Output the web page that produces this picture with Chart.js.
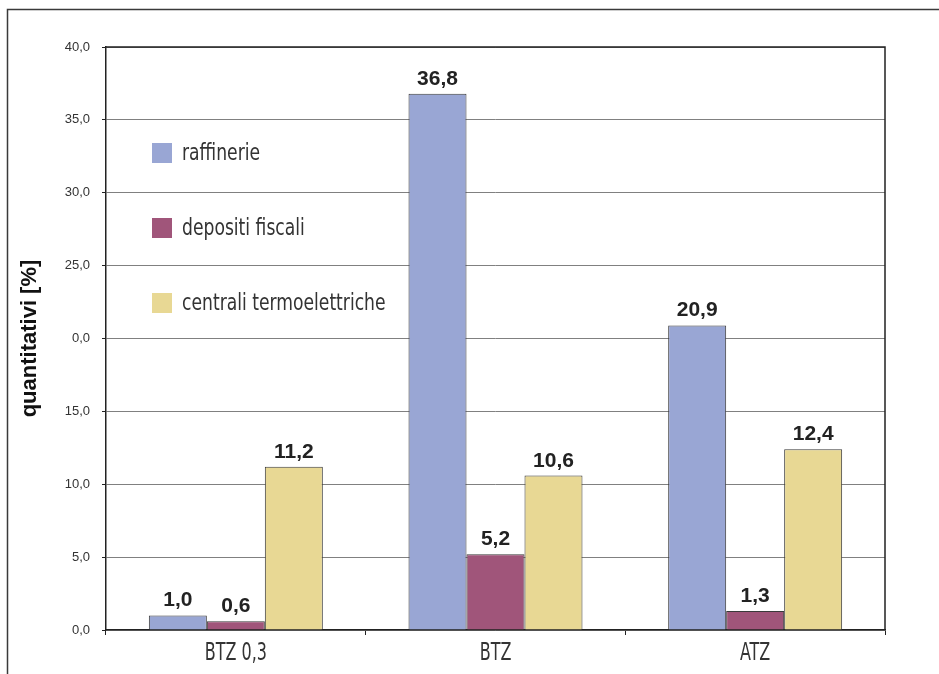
<!DOCTYPE html>
<html>
<head>
<meta charset="utf-8">
<script src="https://cdn.jsdelivr.net/npm/chart.js@4/dist/chart.umd.min.js"></script>
<style>
  html, body { margin: 0; padding: 0; background: #fff; }
  canvas { display: block; }
</style>
</head>
<body>
<canvas id="c" width="939" height="674"></canvas>
<script>
// Categories and series
const categories = ['BTZ 0,3', 'BTZ', 'ATZ'];
const raffinerie = [1.0, 36.8, 20.9];
const depositiFiscali = [0.6, 5.2, 1.3];
const centraliTermo = [11.2, 10.6, 12.4];
const seriesNames = ['raffinerie', 'depositi fiscali', 'centrali termoelettriche'];
const yTickLabels = ['0,0', '5,0', '10,0', '15,0', '0,0', '25,0', '30,0', '35,0', '40,0'];
const axisTitle = 'quantitativi [%]';

const colors = ['#99A6D4', '#A0557A', '#E8D894'];
const narrow = "'Liberation Sans Narrow', 'DejaVu Sans Condensed', sans-serif";
const sans = "'Liberation Sans', Arial, sans-serif";

const fmt = v => v.toFixed(1).replace('.', ',');

// Draw text squeezed horizontally (condensed look)
function squeezedText(ctx, text, x, y, sx) {
  ctx.save();
  ctx.translate(x, y);
  ctx.scale(sx, 1);
  ctx.fillText(text, 0, 0);
  ctx.restore();
}

// Outer frame and plot box
const framePlugin = {
  id: 'frame',
  beforeDraw(chart) {
    const ctx = chart.ctx;
    ctx.save();
    ctx.strokeStyle = '#3a3a3a';
    ctx.lineWidth = 1.5;
    ctx.beginPath();
    ctx.moveTo(7.5, chart.height);
    ctx.lineTo(7.5, 9.5);
    ctx.lineTo(chart.width, 9.5);
    ctx.stroke();
    ctx.restore();
  },
  afterDraw(chart) {
    const a = chart.chartArea;
    const ctx = chart.ctx;
    ctx.save();
    ctx.strokeStyle = '#222';
    ctx.lineWidth = 1.5;
    ctx.beginPath();
    ctx.moveTo(a.left, a.top);
    ctx.lineTo(a.right, a.top);
    ctx.lineTo(a.right, a.bottom);
    ctx.stroke();
    ctx.restore();
  }
};

// Category names under the x axis, placed at the scale's tick positions
const categoryLabels = {
  id: 'categoryLabels',
  afterDraw(chart) {
    const xs = chart.scales.x;
    const ctx = chart.ctx;
    ctx.save();
    ctx.font = '24px ' + narrow;
    ctx.fillStyle = '#333';
    ctx.textAlign = 'center';
    ctx.textBaseline = 'alphabetic';
    chart.data.labels.forEach((lab, i) => {
      squeezedText(ctx, lab, xs.getPixelForTick(i), chart.chartArea.bottom + 30, 0.74);
    });
    ctx.restore();
  }
};

// Value labels above each bar
const valueLabels = {
  id: 'valueLabels',
  afterDatasetsDraw(chart) {
    const ctx = chart.ctx;
    ctx.save();
    ctx.font = 'bold 21px ' + sans;
    ctx.fillStyle = '#222';
    ctx.textAlign = 'center';
    ctx.textBaseline = 'alphabetic';
    chart.data.datasets.forEach((ds, i) => {
      chart.getDatasetMeta(i).data.forEach((el, j) => {
        ctx.fillText(fmt(ds.data[j]), el.x, el.y - 9);
      });
    });
    ctx.restore();
  }
};

// Legend drawn inside the plot area
const innerLegend = {
  id: 'innerLegend',
  afterDraw(chart) {
    const a = chart.chartArea;
    const ctx = chart.ctx;
    ctx.save();
    ctx.font = '23px ' + narrow;
    ctx.textBaseline = 'middle';
    ctx.textAlign = 'left';
    chart.data.datasets.forEach((ds, i) => {
      const cy = a.top + 106 + i * 75;
      const x = a.left + 46;
      ctx.fillStyle = ds.backgroundColor;
      ctx.fillRect(x, cy - 10, 20, 20);
      ctx.fillStyle = '#333';
      squeezedText(ctx, ds.label, x + 30, cy + 1, 0.83);
    });
    ctx.restore();
  }
};

new Chart(document.getElementById('c'), {
  type: 'bar',
  data: {
    labels: categories,
    datasets: [
      { label: seriesNames[0], data: raffinerie, backgroundColor: colors[0] },
      { label: seriesNames[1], data: depositiFiscali, backgroundColor: colors[1] },
      { label: seriesNames[2], data: centraliTermo, backgroundColor: colors[2] }
    ].map(d => Object.assign(d, { borderColor: '#3a3a3a', borderWidth: 1, borderSkipped: 'bottom' }))
  },
  options: {
    responsive: false,
    animation: false,
    layout: { padding: { top: 47, right: 54, left: 0, bottom: 0 } },
    datasets: { bar: { categoryPercentage: 0.67, barPercentage: 1.0 } },
    plugins: { legend: { display: false }, tooltip: { enabled: false } },
    scales: {
      x: {
        grid: { display: true, drawOnChartArea: false, drawTicks: true, tickLength: 5, color: '#222', offset: true },
        border: { color: '#222', width: 1.5 },
        ticks: { display: false },
        afterFit(s) { s.height = 44; }
      },
      y: {
        min: 0, max: 40,
        ticks: {
          stepSize: 5, color: '#333', padding: 12,
          font: { family: sans, size: 13 },
          callback: (v) => yTickLabels[Math.round(v / 5)]
        },
        grid: { color: '#808080', lineWidth: 1, drawTicks: true, tickLength: 4, tickColor: '#222' },
        border: { color: '#222', width: 1.5 },
        title: {
          display: true, text: axisTitle, color: '#111',
          font: { family: sans, size: 22, weight: 'bold' },
          padding: { top: 17, bottom: 0 }
        },
        afterFit(s) { s.width = 106; }
      }
    }
  },
  plugins: [framePlugin, valueLabels, innerLegend, categoryLabels]
});
</script>
</body>
</html>
